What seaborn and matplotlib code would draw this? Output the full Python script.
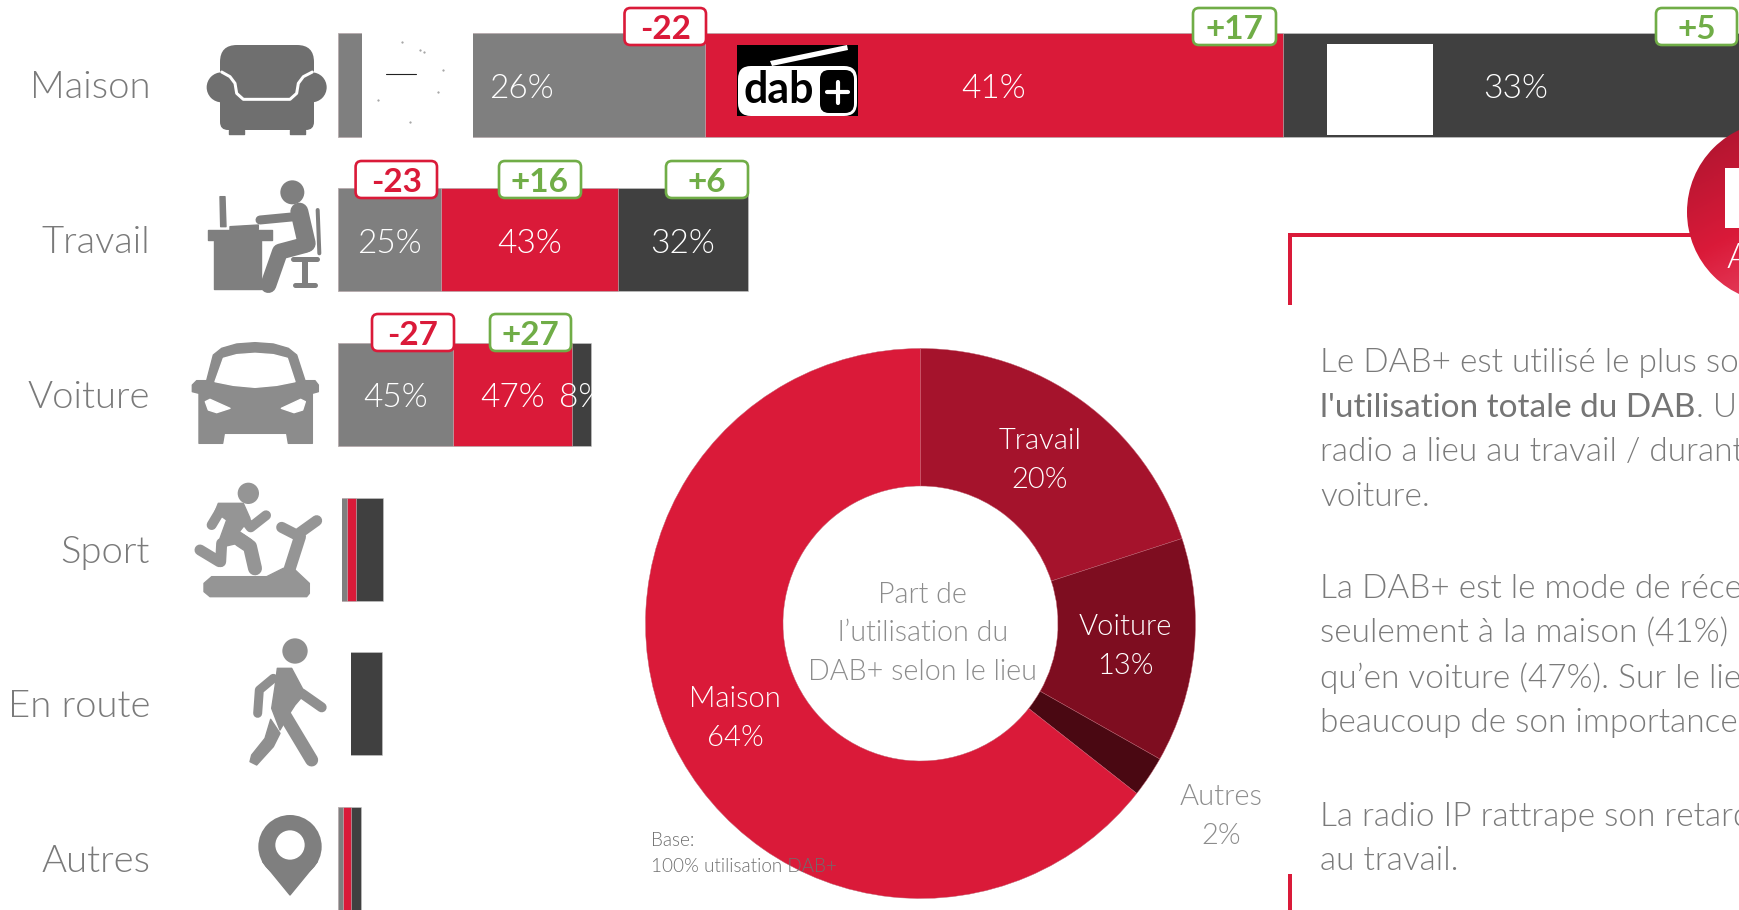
import numpy as np
import pandas as pd
import matplotlib
matplotlib.use("Agg")
import matplotlib.pyplot as plt
import seaborn as sns
from matplotlib.colors import LinearSegmentedColormap
from matplotlib.patches import Circle, FancyBboxPatch, Polygon, Rectangle

# Data
lieux = ["Maison", "Travail", "Voiture", "Sport", "En route", "Autres"]
fm = [26, 7.3, 8.15, 0.64, 0.35, 0.38]
dab = [41, 12.55, 8.45, 0.61, 0.35, 0.57]
ip = [33, 9.2, 1.35, 1.94, 2.39, 0.65]
pct_fm = ["26%", "25%", "45%"]
pct_dab = ["41%", "43%", "47%"]
pct_ip = ["33%", "32%", "8%"]

deltas = ["-22", "+17", "+5", "-23", "+16", "+6", "-27", "+27"]

part_lieux = ["Travail", "Voiture", "Autres", "Maison"]
part_vals = [20, 13.2, 2.4, 64.4]
part_pct = ["20%", "13%", "2%", "64%"]

W, H = 1739, 910
GREY = "#7f7f7f"
RED = "#da1a39"
DARK = "#404040"
GREEN = "#70ad47"
TXT = "#7a7a7a"
PX = 14.1        # pixels per bar unit
ROW = 154.7      # pixels per row
X0 = 338
LIGHT = 300

sns.set_theme(style="white")
plt.rcParams["font.family"] = ["Lato", "DejaVu Sans"]

fig = plt.figure(figsize=(W / 100, H / 100), dpi=100, facecolor="white")

# Stacked bars, painted from the full length down to the first segment
ax = fig.add_axes([X0 / W, 0, (W - X0) / W, 1])
df = pd.DataFrame({"lieu": lieux, "fm": fm, "dab": dab, "ip": ip})
df["c1"] = df["fm"]
df["c2"] = df["fm"] + df["dab"]
df["c3"] = df["c2"] + df["ip"]
for col, colr in [("c3", DARK), ("c2", RED), ("c1", GREY)]:
    sns.barplot(data=df, y="lieu", x=col, order=lieux, orient="y", color=colr, saturation=1,
                width=0.666, errorbar=None, edgecolor="#c8c8c8", linewidth=0.4, ax=ax)
ax.set_xlim(0, (W - X0) / PX)
top = -85 / ROW
ax.set_ylim(top + H / ROW, top)
ax.set_xlabel("")
ax.set_ylabel("")
ax.set_xticks([])
ax.tick_params(axis="y", length=0, pad=(X0 - 150) * 0.72, labelsize=27.5, labelcolor=TXT)
for lab in ax.get_yticklabels():
    lab.set_fontweight(LIGHT)
sns.despine(ax=ax, left=True, bottom=True)
ax.patch.set_visible(False)

for i in range(3):
    a, b, c = df.loc[i, "c1"], df.loc[i, "c2"], df.loc[i, "c3"]
    box = Rectangle((0, i - 0.333), c, 0.666, transform=ax.transData)
    for x, s in [(a / 2, pct_fm[i]), ((a + b) / 2, pct_dab[i]), ((b + c) / 2, pct_ip[i])]:
        t = ax.text(x, i + 0.025, s, color="white", fontsize=24, fontweight=LIGHT, ha="center", va="center")
        t.set_clip_path(box)

# Donut
pax = fig.add_axes([(920.5 - 275) / W, (H - 623.5 - 275) / H, 550 / W, 550 / H])
pax.pie(part_vals, startangle=90, counterclock=False, radius=1,
        colors=["#a5132c", "#7e0d20", "#4a0812", RED],
        wedgeprops=dict(width=0.5, edgecolor="#c06070", linewidth=0.3))
pax.set_xlim(-1, 1)
pax.set_ylim(-1, 1)
pax.set_aspect("equal")

# Everything else is laid out in image pixels on a top layer
ov = fig.add_axes([0, 0, 1, 1])
ov.set_xlim(0, W)
ov.set_ylim(H, 0)
ov.axis("off")
ov.autoscale(False)
ov.patch.set_visible(False)


def pts_at(pts, o):
    return [(o[0] + x / 3, o[1] + y / 3) for x, y in pts]


def poly(pts, o, c, z=3):
    ov.add_patch(Polygon(pts_at(pts, o), closed=True, fc=c, ec=c, lw=1, joinstyle="round", zorder=z))


def limb(pts, o, c, w, z=3):
    p = np.array(pts_at(pts, o))
    ov.plot(p[:, 0], p[:, 1], color=c, lw=w * 0.72, solid_capstyle="round", solid_joinstyle="round", zorder=z)


def disc(x, y, r, o, c, z=3):
    ov.add_patch(Circle(pts_at([(x, y)], o)[0], r / 3, fc=c, ec="none", zorder=z))


def blank(x0, y0, x1, y1, c="white", z=2):
    ov.add_patch(Rectangle((x0, y0), x1 - x0, y1 - y0, fc=c, ec="none", zorder=z))


# images that sit over the bars
blank(362, 30, 473, 140)
blank(1327, 44, 1433, 135)
blank(330, 495, 342, 602)
blank(330, 650, 351, 757)
ov.plot([386, 416], [74, 74], color="#222222", lw=0.8, zorder=3)
ov.scatter([402, 420, 424, 443, 438, 410, 378], [42, 50, 52, 70, 92, 122, 100], s=0.3, color="#999999", zorder=3)

# dab+ logo
blank(736.7, 45, 857.7, 116, "black", 3)
ov.add_patch(FancyBboxPatch((738, 66), 119, 50, boxstyle="round,pad=0,rounding_size=13", fc="white", ec="none", zorder=3))
ov.add_patch(FancyBboxPatch((820, 70), 34, 43, boxstyle="round,pad=0,rounding_size=9", fc="black", ec="none", zorder=4))
ov.add_patch(Polygon([(770, 61), (847, 45), (848, 50), (772, 66)], fc="white", ec="none", zorder=4))
ov.text(779, 103, "dab", color="black", fontsize=31, fontweight="bold", ha="center", va="baseline", zorder=5)
ov.plot([827, 848], [92, 92], color="white", lw=3, zorder=5)
ov.plot([837.5, 837.5], [82, 103], color="white", lw=3, zorder=5)

# Sofa
o = (180, 30)
c = "#6f6f6f"
ov.add_patch(FancyBboxPatch((220, 45), 94, 85, boxstyle="round,pad=0,rounding_size=17", fc=c, ec="none", zorder=3))
ov.add_patch(FancyBboxPatch((220, 85), 94, 45, boxstyle="round,pad=0,rounding_size=8", fc=c, ec="none", zorder=3))
disc(125, 172, 45, o, c)
disc(395, 172, 45, o, c)
poly([(148, 300), (192, 300), (192, 312), (148, 312)], o, c)
poly([(330, 300), (375, 300), (375, 312), (330, 312)], o, c)
limb([(125, 126), (150, 140), (165, 160), (170, 190), (190, 208), (330, 208), (350, 190), (355, 160), (370, 140), (397, 126)],
     o, "white", 3, 4)

# Desk
o = (180, 30)
c = "#7f7f7f"
disc(337, 487, 36, o, c)
poly([(84, 600), (277, 600), (277, 630), (84, 630)], o, c)
poly([(102, 630), (243, 630), (243, 778), (102, 778)], o, c)
poly([(120, 500), (135, 500), (138, 590), (122, 590)], o, c)
poly([(150, 590), (235, 585), (235, 598), (150, 600)], o, c)
limb([(240, 570), (345, 560)], o, c, 9)
limb([(358, 545), (380, 640)], o, c, 18)
limb([(375, 645), (300, 665), (265, 765)], o, c, 16)
limb([(413, 540), (418, 670)], o, c, 4)
limb([(340, 688), (412, 688)], o, c, 5)
limb([(375, 690), (375, 765)], o, c, 6)
limb([(345, 765), (405, 765)], o, c, 5)

# Car
o = (180, 330)
c = "#8c8c8c"
poly([(57, 340), (57, 190), (37, 185), (37, 165), (50, 152), (80, 152), (100, 75), (125, 55), (170, 42), (225, 38), (280, 42), (325, 55), (350, 75),
      (375, 152), (405, 152), (415, 165), (415, 185), (397, 190), (397, 340), (325, 340), (320, 310), (133, 310), (128, 340)], o, c)
poly([(130, 85), (170, 74), (225, 70), (280, 74), (322, 85), (345, 155), (290, 166), (225, 172), (160, 166), (105, 155)], o, "white", 4)
poly([(76, 215), (90, 208), (150, 235), (110, 248), (85, 240)], o, "white", 4)
poly([(376, 215), (362, 208), (304, 235), (342, 248), (368, 240)], o, "white", 4)

# Treadmill
c = "#959595"
disc(205, 490, 32, o, c)
poly([(115, 520), (190, 520), (210, 565), (178, 605), (215, 630), (130, 650), (120, 625), (140, 570), (105, 545)], o, c)
limb([(95, 585), (125, 535)], o, c, 10)
limb([(195, 570), (212, 592), (258, 556)], o, c, 10)
limb([(180, 630), (210, 650), (225, 715)], o, c, 14)
limb([(125, 640), (122, 695)], o, c, 11)
limb([(60, 660), (118, 695)], o, c, 11)
poly([(95, 740), (260, 740), (310, 715), (340, 715), (388, 760), (388, 790), (380, 800), (90, 800), (72, 785), (72, 760)], o, c)
limb([(360, 620), (328, 720)], o, c, 12)
limb([(305, 592), (350, 615), (410, 572)], o, c, 11)

# Walker
o = (230, 630)
c = "#8f8f8f"
disc(195, 63, 38, o, c)
poly([(142, 115), (185, 115), (225, 190), (195, 225), (182, 245), (150, 300), (125, 235), (135, 170)], o, c)
limb([(155, 240), (245, 390)], o, c, 13)
limb([(130, 145), (88, 180), (83, 250)], o, c, 9)
limb([(215, 190), (275, 232)], o, c, 10)
poly([(122, 268), (150, 310), (130, 350), (80, 405), (60, 395), (65, 375), (105, 325)], o, c)

# Pin
c = "#7f7f7f"
disc(180, 650, 95, o, c)
poly([(98, 695), (262, 695), (180, 795)], o, c)
disc(180, 645, 44, o, "white", 4)

# Change badges
badge_x0 = [623.5, 1192, 1655, 354.6, 498, 665, 371, 489]
badge_x1 = [707, 1277, 1738, 438, 582, 749, 455, 572]
badge_y0 = [7, 7, 7, 160, 160, 160, 313, 313]
for s, x0, x1, y0 in zip(deltas, badge_x0, badge_x1, badge_y0):
    colr = RED if s[0] == "-" else GREEN
    ov.add_patch(FancyBboxPatch((x0 + 1, y0 + 1), x1 - x0 - 2, 37, boxstyle="round,pad=0,rounding_size=6",
                                fc="white", ec=colr, lw=1.9, zorder=6))
    ov.text((x0 + x1) / 2, y0 + 22.5, s, color=colr, fontsize=24, fontweight="bold", ha="center", va="center", zorder=7)

# Donut labels
label_pos = [(1040, 441), (1125, 627), (1221, 797), (735, 699)]
label_col = ["white", "white", "#8c8c8c", "white"]
for name, pct, (x, y), colr in zip(part_lieux, part_pct, label_pos, label_col):
    ov.text(x, y, name, color=colr, fontsize=21, fontweight=LIGHT, ha="center", va="center", zorder=5)
    ov.text(x, y + 39, pct, color=colr, fontsize=21, fontweight=LIGHT, ha="center", va="center", zorder=5)
for y, s in zip([595, 633, 672], ["Part de", "l’utilisation du", "DAB+ selon le lieu"]):
    ov.text(922.7, y, s, color="#8c8c8c", fontsize=20.6, fontweight=LIGHT, ha="center", va="center", zorder=5)
ov.text(651, 841, "Base:", color="#6e6e6e", fontsize=13.6, fontweight=LIGHT, va="center", zorder=5)
ov.text(651, 866, "100% utilisation DAB+", color="#6e6e6e", fontsize=13.6, fontweight=LIGHT, va="center", zorder=5)

# Frame of the side panel
blank(1288, 233, 1720, 237, RED, 2)
blank(1288, 233, 1292, 305, RED, 2)
blank(1288, 874, 1292, H, RED, 2)

# Corner disc with a diagonal gradient
cx, cy, r = 1777.6, 212, 90.6
cmap = LinearSegmentedColormap.from_list("disc", ["#a8142e", RED, "#ee5a78"])
gx, gy = np.meshgrid(np.linspace(0, 1, 100), np.linspace(0, 1, 100))
im = ov.imshow(gx * 0.4 + gy * 0.75, extent=(cx - r, cx + r, cy + r, cy - r), cmap=cmap, aspect="auto", zorder=8)
im.set_clip_path(Circle((cx, cy), r, transform=ov.transData))
ov.set_xlim(0, W)
ov.set_ylim(H, 0)
blank(1725, 168, W, 228, "white", 9)
ov.text(1727, 268, "A", color="white", fontsize=26, fontweight=LIGHT, va="baseline", zorder=9)

# Side text
side_text = [
    (372, "Le DAB+ est utilisé le plus souvent"),
    (461, "radio a lieu au travail / durant"),
    (506, "voiture."),
    (598, "La DAB+ est le mode de réception"),
    (643, "seulement à la maison (41%)"),
    (688, "qu’en voiture (47%). Sur le lieu"),
    (732, "beaucoup de son importance"),
    (826, "La radio IP rattrape son retard"),
    (870, "au travail."),
]
for y, s in side_text:
    ov.text(1320.5, y, s, color="#7a7a7a", fontsize=24, fontweight=LIGHT, va="baseline", zorder=5)
bold = ov.text(1320.5, 417, "l'utilisation totale du DAB", color="#757575", fontsize=24, va="baseline", zorder=5)
bb = bold.get_window_extent(fig.canvas.get_renderer())
ov.text(bb.x1, 417, ". Un", color="#7a7a7a", fontsize=24, fontweight=LIGHT, va="baseline", zorder=5)

fig.savefig("out.png", dpi=100)
